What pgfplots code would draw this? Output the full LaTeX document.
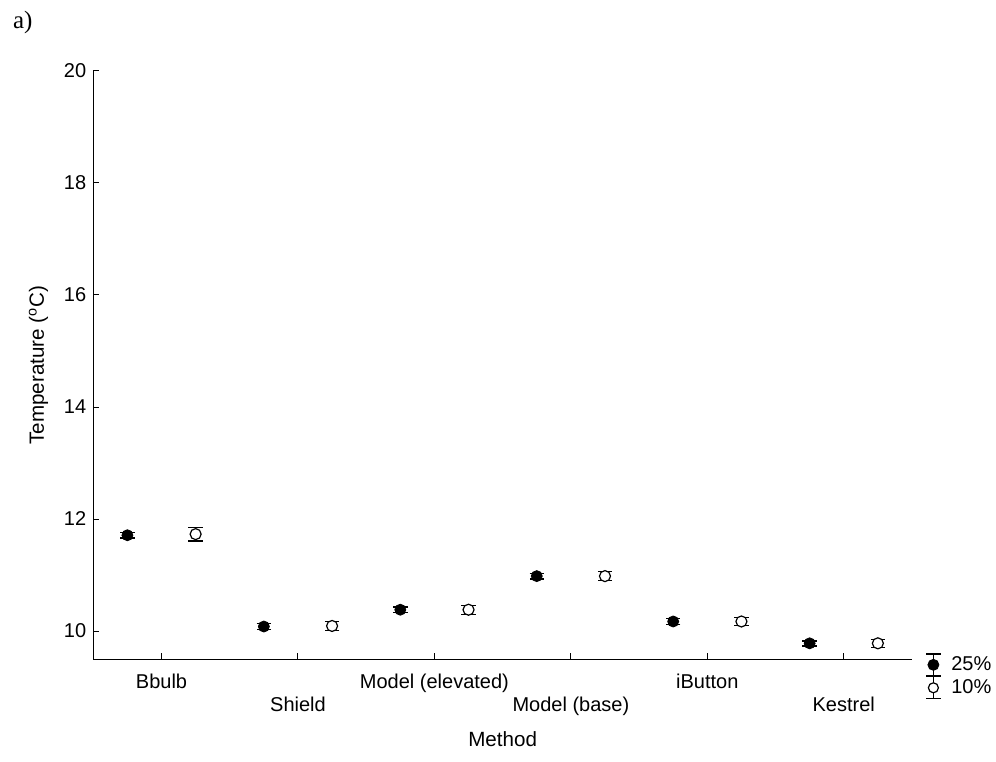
\documentclass[border=0pt]{standalone}
\usepackage{pgfplots}
\pgfplotsset{compat=1.18}
\usepackage{fontspec}
\setmainfont{Liberation Sans}
\newfontfamily\seriffont{Liberation Serif}
\begin{document}
\begin{tikzpicture}
\useasboundingbox (0,0) rectangle (498pt,380.5pt);
\node[anchor=west,font=\seriffont\fontsize{12.5}{14}\selectfont] at (3pt,369.5pt) {a)};
\begin{axis}[
  at={(46.65pt,51pt)}, anchor=south west,
  scale only axis, width=409.35pt, height=294pt,
  xmin=-0.5, xmax=5.5, ymin=9.5, ymax=20,
  axis x line*=bottom, axis y line*=left,
  axis line style={line width=0.5pt},
  tick style={black, line width=0.5pt},
  tick align=inside, major tick length=3pt,
  xtick={0,1,2,3,4,5},
  xticklabels={{\strut Bbulb},{\strut\\\strut Shield},{\strut Model (elevated)},{\strut\\\strut Model (base)},{\strut iButton},{\strut\\\strut Kestrel}},
  xticklabel style={align=center, anchor=north, yshift=-3pt, font=\fontsize{10}{11.5}\selectfont},
  ytick={10,12,14,16,18,20},
  yticklabel style={font=\fontsize{10}{12}\selectfont},
  /pgf/number format/assume math mode=true,
  xlabel={Method}, ylabel={Temperature (\textsuperscript{o}C)},
  label style={font=\fontsize{10.3}{12}\selectfont},
  xlabel style={yshift=0pt},
  ylabel style={yshift=1pt},
  legend style={at={(1.016,0.012)}, anchor=north west, draw=none, fill=none,
    font=\fontsize{10}{12}\selectfont, row sep=-1pt, column sep=3pt, inner sep=0pt,
    cells={anchor=west}},
  legend cell align=left,
]
\addplot[only marks, mark=*, mark size=2.75pt, mark options={fill=black, draw=black},
  legend image code/.code={
    \draw[line width=0.7pt] (3.6pt,-5.5pt)--(3.6pt,5.5pt);
    \draw[line width=0.7pt] (0pt,-5.5pt)--(7.2pt,-5.5pt);
    \draw[line width=0.7pt] (0pt,5.5pt)--(7.2pt,5.5pt);
    \fill[black] (3.6pt,0pt) circle (2.75pt);
  },
  error bars/.cd, y dir=both, y explicit,
  error bar style={line width=0.7pt},
  error mark options={rotate=90, mark size=3.6pt, line width=0.7pt}]
  coordinates {
  (-0.25,11.71) +- (0,0.05)
  (0.75,10.08) +- (0,0.05)
  (1.75,10.38) +- (0,0.05)
  (2.75,10.98) +- (0,0.05)
  (3.75,10.17) +- (0,0.05)
  (4.75,9.78) +- (0,0.045)
  };
\addlegendentry{25\%}
\addplot[only marks, mark=*, mark size=2.75pt, mark options={fill=white, draw=black, line width=0.6pt},
  legend image code/.code={
    \draw[line width=0.7pt] (3.6pt,-5.5pt)--(3.6pt,5.5pt);
    \draw[line width=0.7pt] (0pt,-5.5pt)--(7.2pt,-5.5pt);
    \draw[line width=0.7pt] (0pt,5.5pt)--(7.2pt,5.5pt);
    \draw[fill=white, line width=0.6pt] (3.6pt,0pt) circle (2.5pt);
  },
  error bars/.cd, y dir=both, y explicit,
  error bar style={line width=0.7pt},
  error mark options={rotate=90, mark size=3.6pt, line width=0.7pt}]
  coordinates {
  (0.25,11.73) +- (0,0.12)
  (1.25,10.09) +- (0,0.08)
  (2.25,10.38) +- (0,0.08)
  (3.25,10.98) +- (0,0.08)
  (4.25,10.17) +- (0,0.07)
  (5.25,9.78) +- (0,0.07)
  };
\addlegendentry{10\%}
\end{axis}
\end{tikzpicture}
\end{document}
